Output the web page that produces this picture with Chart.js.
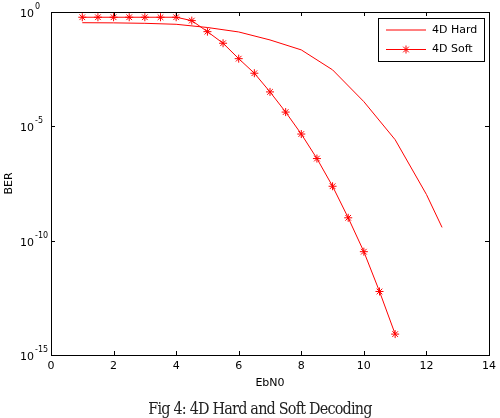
<!DOCTYPE html>
<html>
<head>
<meta charset="utf-8">
<script src="https://cdn.jsdelivr.net/npm/chart.js@4"></script>
<style>
  body { margin: 0; background: #fff; }
  #wrap { width: 500px; height: 418px; }
</style>
</head>
<body>
<div id="wrap"><canvas id="myChart" width="500" height="418"></canvas></div>
<script>
// EbN0 values and BER
const softX = [1, 1.5, 2, 2.5, 3, 3.5, 4, 4.5, 5, 5.5, 6, 6.5, 7, 7.5, 8, 8.5, 9, 9.5, 10, 10.5, 11];
const softBER = [0.59, 0.59, 0.59, 0.59, 0.59, 0.59, 0.59, 0.42, 0.138, 0.043, 9.1e-3, 2.1e-3, 3.2e-4, 4.2e-5, 4.6e-6, 3.9e-7, 2.4e-8, 1.0e-9, 3.3e-11, 6e-13, 8.2e-15];
const hardX = [1, 2, 3, 4, 5, 6, 7, 8, 9, 10, 11, 12, 12.5];
const hardBER = [0.34, 0.335, 0.32, 0.29, 0.21, 0.134, 0.06, 0.022, 2.95e-3, 1.2e-4, 2.6e-6, 1.05e-8, 3.8e-10];
const xTicks = [0, 2, 4, 6, 8, 10, 12, 14];
const yExps = [0, -5, -10, -15];
const seriesNames = ['4D Hard', '4D Soft'];
const caption = 'Fig 4: 4D Hard and Soft Decoding';

const RED = '#ff0000';
const FONT = '"DejaVu Sans", sans-serif';

const toPts = (xs, ys) => xs.map((x, i) => ({ x: x, y: ys[i] }));

// axes, frame, labels, legend and caption drawn MATLAB-style
const matlabAxes = {
    id: 'matlabAxes',
    afterDraw: function(chart) {
        const ctx = chart.ctx;
        const a = chart.chartArea;
        const xs = chart.scales.x;
        const ys = chart.scales.y;
        ctx.save();

        // frame
        ctx.strokeStyle = '#000';
        ctx.lineWidth = 1;
        ctx.strokeRect(Math.round(a.left) + 0.5, Math.round(a.top) + 0.5,
            Math.round(a.right - a.left), Math.round(a.bottom - a.top));

        // inward tick marks
        const tl = 4;
        ctx.beginPath();
        xTicks.forEach(function(v) {
            const px = Math.round(xs.getPixelForValue(v)) + 0.5;
            ctx.moveTo(px, a.bottom); ctx.lineTo(px, a.bottom - tl);
            ctx.moveTo(px, a.top); ctx.lineTo(px, a.top + tl);
        });
        yExps.forEach(function(e) {
            const py = Math.round(ys.getPixelForValue(Math.pow(10, e))) + 0.5;
            ctx.moveTo(a.left, py); ctx.lineTo(a.left + tl, py);
            ctx.moveTo(a.right, py); ctx.lineTo(a.right - tl, py);
        });
        ctx.stroke();

        // x tick labels
        ctx.fillStyle = '#000';
        ctx.font = '11px ' + FONT;
        ctx.textAlign = 'center';
        ctx.textBaseline = 'top';
        xTicks.forEach(function(v) {
            ctx.fillText(String(v), xs.getPixelForValue(v), a.bottom + 6);
        });

        // y tick labels 10^e
        yExps.forEach(function(e) {
            const py = ys.getPixelForValue(Math.pow(10, e));
            ctx.font = '11px ' + FONT;
            ctx.textAlign = 'left';
            ctx.textBaseline = 'middle';
            ctx.fillText('10', 20, py + 2);
            const w = ctx.measureText('10').width;
            ctx.font = '8px ' + FONT;
            ctx.fillText(e === 0 ? '0' : '-' + (-e), 20 + w + 1, py - 5);
        });

        // axis titles
        ctx.font = '11px ' + FONT;
        ctx.textAlign = 'center';
        ctx.textBaseline = 'middle';
        ctx.fillText('EbN0', (a.left + a.right) / 2, a.bottom + 28);
        ctx.save();
        ctx.translate(9, (a.top + a.bottom) / 2);
        ctx.rotate(-Math.PI / 2);
        ctx.fillText('BER', 0, 0);
        ctx.restore();

        // legend
        const lx = 378, ly = 18, lw = 106, lh = 43;
        ctx.fillStyle = '#fff';
        ctx.fillRect(lx, ly, lw, lh);
        ctx.strokeStyle = '#000';
        ctx.strokeRect(lx + 0.5, ly + 0.5, lw, lh);
        seriesNames.forEach(function(name, i) {
            const y = ly + 12 + i * 19.5;
            ctx.strokeStyle = RED;
            ctx.beginPath();
            ctx.moveTo(lx + 8, y); ctx.lineTo(lx + 48, y);
            ctx.stroke();
            if (i === 1) {
                const cx = lx + 28, r = 4;
                ctx.beginPath();
                ctx.moveTo(cx - r, y); ctx.lineTo(cx + r, y);
                ctx.moveTo(cx, y - r); ctx.lineTo(cx, y + r);
                const d = r * 0.7071;
                ctx.moveTo(cx - d, y - d); ctx.lineTo(cx + d, y + d);
                ctx.moveTo(cx - d, y + d); ctx.lineTo(cx + d, y - d);
                ctx.stroke();
            }
            ctx.fillStyle = '#000';
            ctx.font = '11px ' + FONT;
            ctx.textAlign = 'left';
            ctx.textBaseline = 'middle';
            ctx.fillText(name, lx + 54, y);
        });

        // caption
        ctx.fillStyle = '#222';
        ctx.font = '16px "DejaVu Serif Condensed", "DejaVu Serif", serif';
        ctx.letterSpacing = '-0.8px';
        ctx.textAlign = 'center';
        ctx.textBaseline = 'alphabetic';
        ctx.fillText(caption, 260, 414);

        ctx.restore();
    }
};

const ctx = document.getElementById('myChart').getContext('2d');
new Chart(ctx, {
    type: 'line',
    data: {
        datasets: [{
            label: seriesNames[0],
            data: toPts(hardX, hardBER),
            borderColor: RED,
            borderWidth: 1,
            pointRadius: 0,
            fill: false,
            tension: 0
        }, {
            label: seriesNames[1],
            data: toPts(softX, softBER),
            borderColor: RED,
            borderWidth: 1,
            pointStyle: 'star',
            pointRadius: 4,
            pointBorderColor: RED,
            pointBorderWidth: 1,
            fill: false,
            tension: 0
        }]
    },
    options: {
        responsive: false,
        animation: false,
        layout: { padding: { left: 43, right: 11, top: 12, bottom: 55 } },
        plugins: { legend: { display: false }, tooltip: { enabled: false } },
        scales: {
            x: {
                type: 'linear', min: 0, max: 14,
                grid: { display: false },
                border: { display: false },
                ticks: { display: false }
            },
            y: {
                type: 'logarithmic', min: 1e-15, max: 1,
                grid: { display: false },
                border: { display: false },
                ticks: { display: false }
            }
        }
    },
    plugins: [matlabAxes]
});
</script>
</body>
</html>
